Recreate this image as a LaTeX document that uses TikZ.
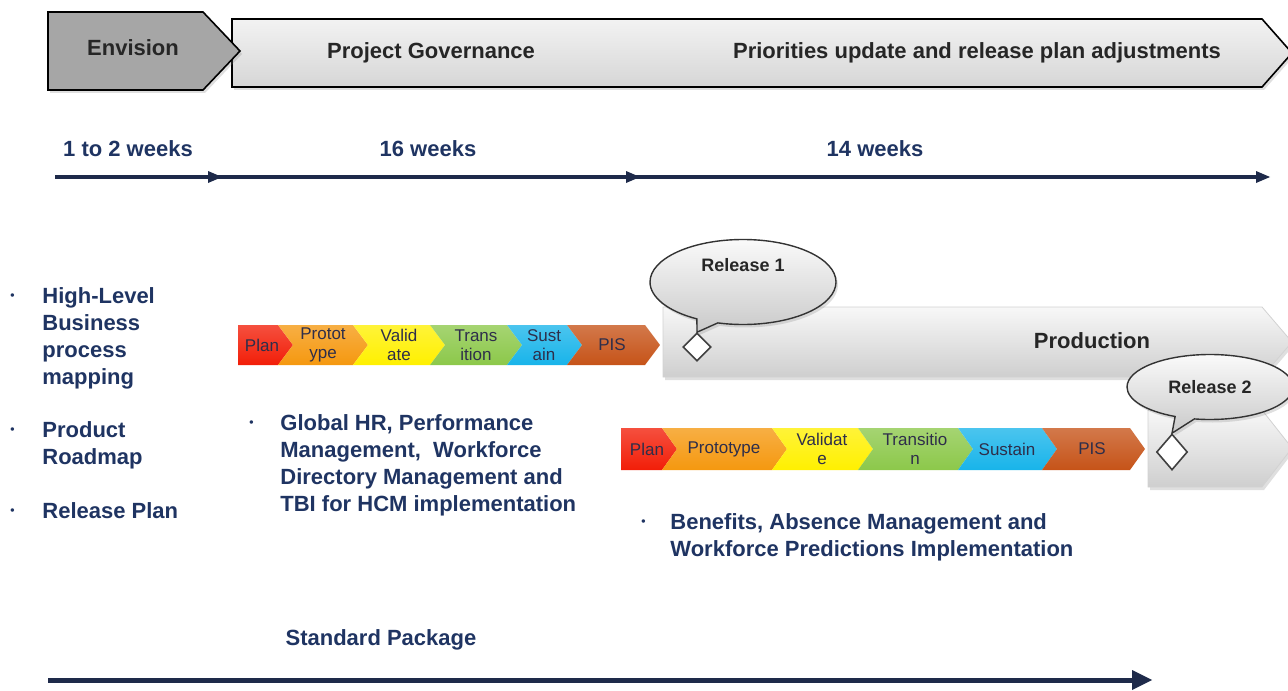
\documentclass[tikz,border=0pt]{standalone}
\usepackage{fontspec}
\setmainfont{Liberation Sans}
\usetikzlibrary{shapes.geometric,shapes.callouts,shadows}
\definecolor{navyink}{HTML}{1F3462}
\definecolor{navyline}{HTML}{1E2A4A}
\definecolor{chevink}{HTML}{2E2E4A}
\definecolor{envgray}{HTML}{A6A6A6}
\definecolor{planred}{HTML}{F21E08}
\definecolor{protoorange}{HTML}{F5980F}
\definecolor{valyellow}{HTML}{FFF000}
\definecolor{transgreen}{HTML}{8CC84A}
\definecolor{sustcyan}{HTML}{18B4EA}
\definecolor{pisbrown}{HTML}{C65318}

\begin{document}
\begin{tikzpicture}[x=0.5pt,y=0.5pt]
		\tikzstyle{every node}+=[inner sep=0pt]
		\tikzstyle{headtext}=[font=\fontsize{11}{13.5}\selectfont\bfseries, text=black!85]
		\tikzstyle{bluetext}=[font=\fontsize{11}{13.5}\selectfont\bfseries, text=navyink, align=left]
		\tikzstyle{chevtext}=[font=\fontsize{8.5}{9.5}\selectfont, text=chevink, align=center]
		\tikzstyle{softshadow}=[drop shadow={opacity=0.25, shadow xshift=1pt, shadow yshift=-1.5pt}]
		\tikzstyle{grayband}=[top color=gray!6, bottom color=gray!38, draw=gray!35, softshadow]
		\tikzstyle{balloon}=[ellipse callout, draw=black!80, line width=0.7pt, top color=gray!4, bottom color=gray!42, callout pointer arc=14, softshadow, font=\fontsize{9}{10}\selectfont\bfseries, text=black!85]
		\tikzstyle{milestone}=[diamond, draw=black!75, line width=0.8pt, fill=white]
		\useasboundingbox (0,0) rectangle (1288,-690);
		\clip (0,0) rectangle (1288,-690);
		% phases along the top
		\draw [black, line width=0.8pt, top color=gray!10, bottom color=gray!32, softshadow] (232,-19) -- (1262,-19) -- (1292,-53) -- (1262,-87) -- (232,-87) -- cycle;
		\draw [black, line width=0.8pt, fill=envgray, softshadow] (48,-12) -- (203,-12) -- (240,-51) -- (203,-90) -- (48,-90) -- cycle;
		\node [headtext] (envision) at (133,-48) {Envision};
		\node [headtext] (governance) at (431,-53) {Project Governance};
		\node [headtext] (priorities) at (977,-53) {Priorities update and release plan adjustments};
		% weeks
		\coordinate (wk0) at (55,-177);
		\coordinate (wk1) at (210,-177);
		\coordinate (wk2) at (628,-177);
		\coordinate (wk3) at (1258,-177);
		\draw [navyline, line width=1.6pt] (wk0) -- (wk3);
		\fill [navyline] (wk1) ++(12,0) -- ++(-14,6) -- ++(0,-12) -- cycle;
		\fill [navyline] (wk2) ++(12,0) -- ++(-14,6) -- ++(0,-12) -- cycle;
		\fill [navyline] (wk3) ++(12,0) -- ++(-14,6) -- ++(0,-12) -- cycle;
		\node [bluetext] (wkenv) at (128,-149) {1 to 2 weeks};
		\node [bluetext] (wkgov) at (428,-149) {16 weeks};
		\node [bluetext] (wkadj) at (875,-149) {14 weeks};
		% envision outputs
		\node [bluetext, anchor=base west] (outputs) at (10,-303) {\begin{tabular}[t]{@{}p{16pt}@{}l@{}}
			\raisebox{1.8pt}{\scalebox{0.55}{\textbullet}} & High-Level\\ & Business\\ & process\\ & mapping\\[13pt]
			\raisebox{1.8pt}{\scalebox{0.55}{\textbullet}} & Product\\ & Roadmap\\[13.5pt]
			\raisebox{1.8pt}{\scalebox{0.55}{\textbullet}} & Release Plan
		\end{tabular}};
		% release 1 phases
		\draw [draw=none, top color=planred!78!white, bottom color=planred] (238,-325) -- (278,-325) -- (293,-345) -- (278,-365) -- (238,-365) -- cycle;
		\draw [draw=none, top color=protoorange!78!white, bottom color=protoorange] (278,-325) -- (353,-325) -- (368,-345) -- (353,-365) -- (278,-365) -- (293,-345) -- cycle;
		\draw [draw=none, top color=valyellow!78!white, bottom color=valyellow] (353,-325) -- (430,-325) -- (445,-345) -- (430,-365) -- (353,-365) -- (368,-345) -- cycle;
		\draw [draw=none, top color=transgreen!78!white, bottom color=transgreen] (430,-325) -- (507,-325) -- (522,-345) -- (507,-365) -- (430,-365) -- (445,-345) -- cycle;
		\draw [draw=none, top color=sustcyan!78!white, bottom color=sustcyan] (507,-325) -- (567,-325) -- (582,-345) -- (567,-365) -- (507,-365) -- (522,-345) -- cycle;
		\draw [draw=none, top color=pisbrown!78!white, bottom color=pisbrown] (567,-325) -- (645,-325) -- (660,-345) -- (645,-365) -- (567,-365) -- (582,-345) -- cycle;
		\node [chevtext] (planA) at (262,-345) {Plan};
		\node [chevtext] (protoA) at (323,-345) {Protot\\ype};
		\node [chevtext] (validA) at (399,-345) {Valid\\ate};
		\node [chevtext] (transA) at (476,-345) {Trans\\ition};
		\node [chevtext] (sustA) at (544,-345) {Sust\\ain};
		\node [chevtext] (pisA) at (612,-345) {PIS};
		\node [bluetext, anchor=base west] (scopeA) at (249,-430) {\begin{tabular}[t]{@{}p{15.5pt}@{}l@{}}
			\raisebox{1.8pt}{\scalebox{0.55}{\textbullet}} & Global HR, Performance\\ & Management,\ \ Workforce\\ & Directory Management and\\ & TBI for HCM implementation
		\end{tabular}};
		% production and release 1
		\draw [grayband] (663,-307) -- (1262,-307) -- (1292,-342) -- (1262,-377) -- (663,-377) -- cycle;
		\node [headtext] (production) at (1092,-341) {Production};
		\node [milestone, minimum width=14pt, minimum height=14pt] (mileA) at (697,-347) {};
		\node [balloon, minimum width=93pt, minimum height=42.5pt, text depth=17pt, callout absolute pointer={(mileA.north)}] (relA) at (743,-282) {Release 1};
		% release 2 phases
		\draw [draw=none, top color=planred!78!white, bottom color=planred] (621,-428) -- (662,-428) -- (677,-449) -- (662,-470) -- (621,-470) -- cycle;
		\draw [draw=none, top color=protoorange!78!white, bottom color=protoorange] (662,-428) -- (772,-428) -- (787,-449) -- (772,-470) -- (662,-470) -- (677,-449) -- cycle;
		\draw [draw=none, top color=valyellow!78!white, bottom color=valyellow] (772,-428) -- (858,-428) -- (873,-449) -- (858,-470) -- (772,-470) -- (787,-449) -- cycle;
		\draw [draw=none, top color=transgreen!78!white, bottom color=transgreen] (858,-428) -- (958,-428) -- (973,-449) -- (958,-470) -- (858,-470) -- (873,-449) -- cycle;
		\draw [draw=none, top color=sustcyan!78!white, bottom color=sustcyan] (958,-428) -- (1042,-428) -- (1057,-449) -- (1042,-470) -- (958,-470) -- (973,-449) -- cycle;
		\draw [draw=none, top color=pisbrown!78!white, bottom color=pisbrown] (1042,-428) -- (1130,-428) -- (1145,-449) -- (1130,-470) -- (1042,-470) -- (1057,-449) -- cycle;
		\node [chevtext] (planB) at (647,-449) {Plan};
		\node [chevtext] (protoB) at (724,-449) {Prototype};
		\node [chevtext] (validB) at (822,-449) {Validat\\e};
		\node [chevtext] (transB) at (915,-449) {Transitio\\n};
		\node [chevtext] (sustB) at (1007,-449) {Sustain};
		\node [chevtext] (pisB) at (1092,-449) {PIS};
		\node [bluetext, anchor=base west] (scopeB) at (641,-529) {\begin{tabular}[t]{@{}p{14.5pt}@{}l@{}}
			\raisebox{1.8pt}{\scalebox{0.55}{\textbullet}} & Benefits, Absence Management and\\ & Workforce Predictions Implementation
		\end{tabular}};
		% release 2
		\draw [grayband] (1148,-410) -- (1262,-410) -- (1292,-448) -- (1262,-487) -- (1148,-487) -- cycle;
		\node [milestone, minimum width=15.5pt, minimum height=18pt] (mileB) at (1172,-452) {};
		\node [balloon, minimum width=83pt, minimum height=32.5pt, callout absolute pointer={(mileB.north)}] (relB) at (1210,-387) {Release 2};
		% standard package
		\node [bluetext] (package) at (381,-640) {Standard Package};
		\coordinate (pk0) at (48,-680);
		\coordinate (pk1) at (1134,-680);
		\draw [navyline, line width=2.5pt] (pk0) -- (pk1);
		\fill [navyline] (pk1) ++(18,0) -- ++(-20,10) -- ++(0,-20) -- cycle;
	\end{tikzpicture}
\end{document}
